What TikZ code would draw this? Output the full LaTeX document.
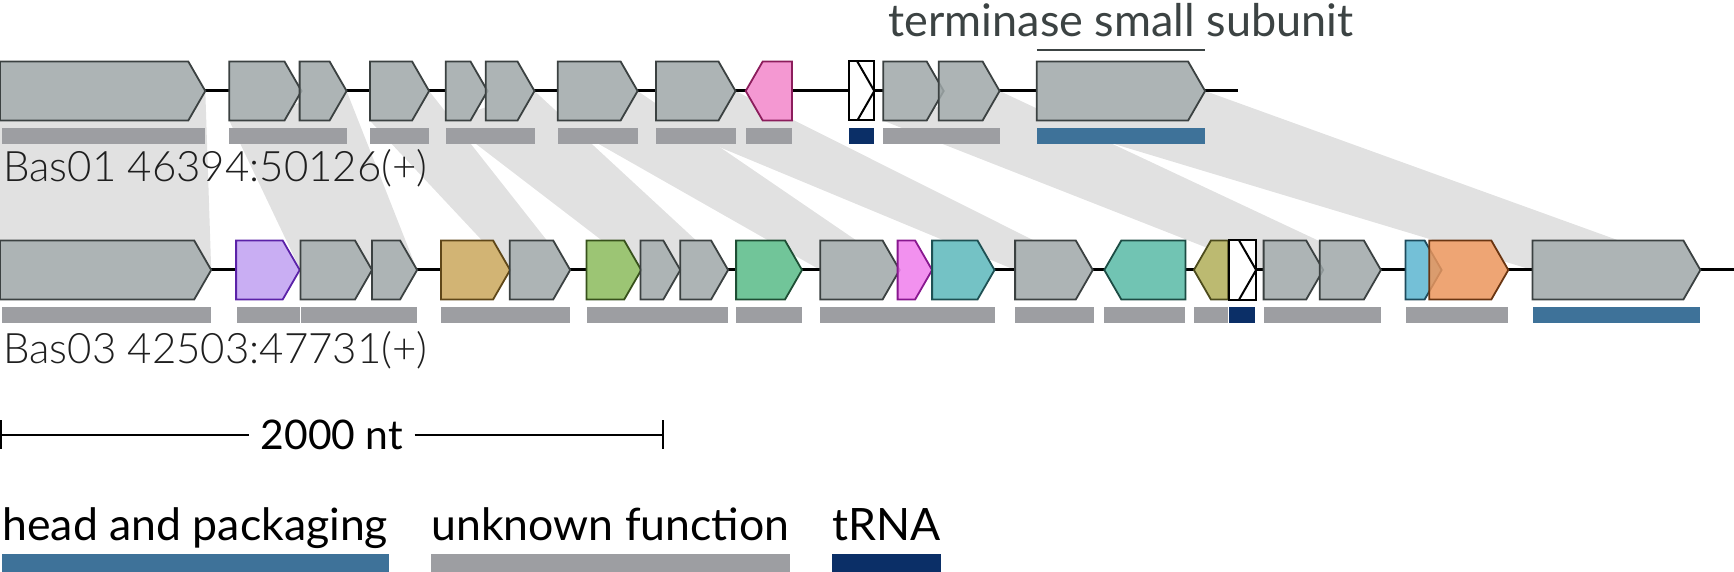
\documentclass[tikz,border=0pt]{standalone}
\usepackage{fontspec}
\setmainfont{Lato}
\newfontfamily\latolight{Lato Light}
\usetikzlibrary{math}
\definecolor{genegrey}{HTML}{9FA8A9}
\definecolor{geneedge}{HTML}{3B4141}
\definecolor{unkgrey}{HTML}{9D9EA2}
\definecolor{headblue}{HTML}{3E7299}
\definecolor{trnablue}{HTML}{0B2F67}
\definecolor{linkgrey}{HTML}{E1E1E1}
\definecolor{titlegrey}{HTML}{3C4343}
\definecolor{pinkf}{HTML}{F387CB}
\definecolor{pinkd}{HTML}{8C1D5C}
\definecolor{purplef}{HTML}{C0A0F2}
\definecolor{purpled}{HTML}{5B22A8}
\definecolor{tanf}{HTML}{CBA85C}
\definecolor{tand}{HTML}{5F4718}
\definecolor{greenf}{HTML}{8BBB5C}
\definecolor{greend}{HTML}{37511B}
\definecolor{tealgf}{HTML}{59BC88}
\definecolor{tealgd}{HTML}{1E4E34}
\definecolor{magf}{HTML}{F07EED}
\definecolor{magd}{HTML}{88178F}
\definecolor{cyanf}{HTML}{5CB8BC}
\definecolor{cyand}{HTML}{1E5053}
\definecolor{tealrf}{HTML}{59BAA6}
\definecolor{tealrd}{HTML}{1C4C44}
\definecolor{olivef}{HTML}{B1AF59}
\definecolor{olived}{HTML}{4C4B1C}
\definecolor{lbluef}{HTML}{5CB6D1}
\definecolor{lblued}{HTML}{1E4B5C}
\definecolor{orangef}{HTML}{EC965C}
\definecolor{oranged}{HTML}{6A3511}

% base x, tip x (tip left of base for reverse genes)
\newcommand\genepath[3]{({#2},{#1-29.5}) -- ({#3-17*sign(#3-#2)},{#1-29.5}) -- ({#3},{#1}) -- ({#3-17*sign(#3-#2)},{#1+29.5}) -- ({#2},{#1+29.5}) -- cycle}
\newcommand\trnabox[3]{\draw[trna] ({#2},{#1-29.5}) rectangle ({#3},{#1+29.5});
\draw[trna] ({#3-17},{#1-29.5}) -- ({#3},{#1}) -- ({#3-17},{#1+29.5});}

\def\topgenes{0/205.3/genegrey/geneedge, 229.3/301.5/genegrey/geneedge, 299.6/346.6/genegrey/geneedge,
369.9/429.1/genegrey/geneedge, 445.7/487.5/genegrey/geneedge, 485.7/534.5/genegrey/geneedge,
557.8/637.6/genegrey/geneedge, 655.9/735.5/genegrey/geneedge, 791.9/745.7/pinkf/pinkd,
883.3/943.7/genegrey/geneedge, 938.8/999.6/genegrey/geneedge, 1036.8/1205.1/genegrey/geneedge}
\def\botgenes{0/211.2/genegrey/geneedge, 236.1/299.7/purplef/purpled, 300.4/372/genegrey/geneedge,
372/417.1/genegrey/geneedge, 440.9/510.1/tanf/tand, 509.7/570.2/genegrey/geneedge,
586.5/641.2/greenf/greend, 640.5/680.3/genegrey/geneedge, 680.3/728.1/genegrey/geneedge,
736.1/802/tealgf/tealgd, 820.3/899.6/genegrey/geneedge, 897.6/932.1/magf/magd,
932.1/994.5/cyanf/cyand, 1015.1/1092.8/genegrey/geneedge, 1185.4/1104.3/tealrf/tealrd,
1228.2/1193.9/olivef/olived, 1263.6/1323.2/genegrey/geneedge, 1319.8/1380.9/genegrey/geneedge,
1405.5/1441.6/lbluef/lblued, 1429.3/1508.3/orangef/oranged, 1532.5/1700.4/genegrey/geneedge}

\begin{document}
\begin{tikzpicture}[x=0.5pt,y=-0.5pt,
  gene/.style={line width=0.9pt, fill opacity=0.85, line join=miter},
  trna/.style={line width=1pt, draw=black, fill=white},
  track/.style={line width=1.5pt, black},
  lbl/.style={font=\latolight\fontsize{21}{25}\selectfont, text=black!88, inner sep=0, anchor=base west},
  legtext/.style={font=\fontsize{22.3}{26}\selectfont, inner sep=0, anchor=base west}]
\useasboundingbox (0,0) rectangle (1734,572);

\foreach \ta/\tb/\ba/\bb in {0/205.3/0/211.2, 229.3/346.6/300.4/417.1, 369.9/429.1/509.7/570.2,
  445.7/534.5/640.5/728.1, 557.8/637.6/820.3/899.6, 655.9/735.5/1015.1/1092.8,
  883.3/999.6/1263.6/1380.9, 1036.8/1205.1/1532.5/1700.4}{
\fill[linkgrey] (\ta,120.7) -- (\tb,91) -- (\bb,270) -- (\ba,270) -- cycle;
}

\draw[track] (0,91) -- (1238.3,91);
\draw[track] (0,270) -- (1734,270);

\foreach \ga/\gb/\gf/\gd in \topgenes {\fill[white] \genepath{91}{\ga}{\gb};}
\foreach \ga/\gb/\gf/\gd in \botgenes {\fill[white] \genepath{270}{\ga}{\gb};}
\foreach \ga/\gb/\gf/\gd in \topgenes {\draw[gene, fill=\gf, draw=\gd] \genepath{91}{\ga}{\gb};}
\foreach \ga/\gb/\gf/\gd in \botgenes {\draw[gene, fill=\gf, draw=\gd] \genepath{270}{\ga}{\gb};}
\trnabox{91}{848.6}{874.3}
\trnabox{270}{1229.3}{1256.1}

\foreach \s/\e/\c in {1.8/205.3/unkgrey, 229.3/346.6/unkgrey, 369.9/429.1/unkgrey, 445.7/534.5/unkgrey,
  557.8/637.6/unkgrey, 655.9/735.5/unkgrey, 745.7/791.9/unkgrey, 848.6/874.3/trnablue,
  883.3/999.6/unkgrey, 1036.8/1205.1/headblue}{
\fill[\c] (\s,128.3) rectangle (\e,144.3);
}
\foreach \s/\e/\c in {1.9/211.2/unkgrey, 236.5/300/unkgrey, 300.8/417.1/unkgrey, 440.9/570.2/unkgrey,
  586.5/728.1/unkgrey, 736.1/802/unkgrey, 820.3/995.2/unkgrey, 1015.1/1093.6/unkgrey,
  1103.5/1184.6/unkgrey, 1193.9/1228.2/unkgrey, 1229.3/1255.4/trnablue, 1263.6/1380.9/unkgrey,
  1405.5/1508.3/unkgrey, 1532.5/1700.4/headblue}{
\fill[\c] (\s,306.7) rectangle (\e,322.7);
}

\node[lbl] (bas01) at (3,181.7) {Bas01 46394:50126(+)};
\node[lbl] (bas03) at (3,363.3) {Bas03 42503:47731(+)};

\node[font=\fontsize{22.5}{26}\selectfont, text=titlegrey, inner sep=0, anchor=base] (tss) at (1121,36.7) {terminase small subunit};
\draw[titlegrey, line width=0.75pt] (1036.8,50) -- (1205.1,50);

\coordinate (sbl) at (1,435);
\coordinate (sbr) at (663.3,435);
\node[legtext, font=\fontsize{20.4}{24}\selectfont, anchor=center, inner xsep=5.5pt] (sbtext) at (332,435) {2000 nt};
\draw[line width=1pt] (sbl) -- (sbtext.west) (sbtext.east) -- (sbr);
\draw[line width=1pt] (1,420) -- (1,449.3) (663.3,420) -- (663.3,449.3);

\node[legtext] (leghead) at (2,540) {head and packaging};
\node[legtext] (legunk) at (431,540) {unknown function};
\node[legtext] (legtrna) at (832,540) {tRNA};
\fill[headblue] (leghead.west |- 0,554) rectangle (leghead.east |- 0,572);
\fill[unkgrey] (legunk.west |- 0,554) rectangle (legunk.east |- 0,572);
\fill[trnablue] (legtrna.west |- 0,554) rectangle (legtrna.east |- 0,572);
\end{tikzpicture}
\end{document}
